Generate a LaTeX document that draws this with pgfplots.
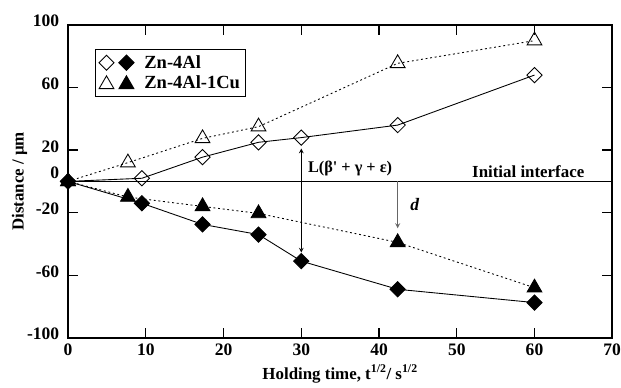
\documentclass[border=0pt]{standalone}
\usepackage{fontspec}
\setmainfont{Liberation Serif}
\usepackage{pgfplots}
\pgfplotsset{compat=1.18}
\begin{document}
\begin{tikzpicture}
\begin{axis}[
  scale only axis, width=435pt, height=250pt,
  xmin=0, xmax=70, ymin=-100, ymax=100,
  xtick={0,10,20,30,40,50,60,70},
  xticklabels={0,10,20,30,40,50,60,70},
  ytick={-100,-60,-20,20,60,100},
  yticklabels={-100,-60,-20,20,60,100},
  extra y ticks={0},
  extra y tick labels={0},
  extra y tick style={major tick length=0pt, yticklabel style={yshift=4pt}},
  tick align=inside, major tick length=8pt,
  axis line style={line width=1.2pt},
  every tick/.style={black, line width=1pt},
  tick label style={font=\bfseries\fontsize{14}{16}\selectfont},
  yticklabel style={yshift=3pt, xshift=-3.5pt},
  xticklabel style={yshift=-1pt, inner xsep=0pt},
  xlabel={\bfseries Holding time, t\textsuperscript{1/2}/ s\textsuperscript{1/2}},
  ylabel={\bfseries Distance / µm},
  label style={font=\bfseries\fontsize{13.5}{15}\selectfont},
  xlabel style={yshift=-1pt},
  ylabel style={yshift=-7pt},
  legend style={at={(axis cs:3.5,84.5)}, anchor=north west, draw=black, line width=0.8pt,
    font=\bfseries\fontsize{14.8}{16}\selectfont, row sep=0.5pt, inner sep=2.5pt},
  legend cell align=left,
  legend image code/.code={},
]
% initial interface
\addplot[black, line width=0.8pt, forget plot] coordinates {(0,0) (70,0)};
% Zn-4Al open
\addplot[black, line width=0.7pt, mark=square, mark options={rotate=45, fill=white, line width=0.7pt}, mark size=4.3pt, forget plot]
 coordinates {(0,0) (9.5,2) (17.3,15.5) (24.5,25) (30,28) (42.4,36) (60,68)};
% Zn-4Al-1Cu open
\addplot[black, line width=0.7pt, dash pattern=on 1.5pt off 2.2pt, mark=triangle, mark options={solid, fill=white, line width=0.7pt}, mark size=6.8pt, forget plot]
 coordinates {(0,0) (7.7,12) (17.3,27.5) (24.5,35) (42.4,75.5) (60,90)};
% Zn-4Al filled
\addplot[black, line width=0.7pt, mark=square*, mark options={rotate=45, fill=black}, mark size=4.3pt, forget plot]
 coordinates {(0,0) (9.5,-14) (17.3,-27.5) (24.5,-34) (30,-51) (42.4,-69) (60,-77.5)};
% Zn-4Al-1Cu filled
\addplot[black, line width=0.7pt, dash pattern=on 1.5pt off 2.2pt, mark=triangle*, mark options={solid, fill=black}, mark size=6.8pt, forget plot]
 coordinates {(0,0) (7.7,-10) (17.3,-16) (24.5,-20.5) (42.4,-39) (60,-68)};
% legend entries
\addlegendimage{legend image code/.code={
  \draw[black, line width=0.7pt] plot[only marks, mark=square, mark options={rotate=45, fill=white}, mark size=4.3pt] coordinates {(0.22cm,0)};
  \draw[black] plot[only marks, mark=square*, mark options={rotate=45, fill=black}, mark size=4.3pt] coordinates {(0.78cm,0)};
}}
\addlegendentry{\hspace{0.22cm}Zn-4Al}
\addlegendimage{legend image code/.code={
  \draw[black, line width=0.7pt] plot[only marks, mark=triangle, mark options={fill=white}, mark size=6.8pt] coordinates {(0.22cm,-1pt)};
  \draw[black] plot[only marks, mark=triangle*, mark options={fill=black}, mark size=6.8pt] coordinates {(0.78cm,-1pt)};
}}
\addlegendentry{\hspace{0.22cm}Zn-4Al-1Cu}
% annotations
\draw[black, line width=0.7pt, <->, >=stealth] (axis cs:30,21) -- (axis cs:30,-45.5);
\draw[black!60, line width=0.8pt, ->, >=stealth] (axis cs:42.4,0) -- (axis cs:42.4,-30);
\node[anchor=west, font=\bfseries\fontsize{13}{15}\selectfont] at (axis cs:30.3,8.5) {L(β\textquotesingle\ + γ + ε)};
\node[anchor=south east, font=\bfseries\fontsize{13.5}{15}\selectfont, inner sep=1pt] at (axis cs:66.6,1.5) {Initial interface};
\node[font=\bfseries\itshape\fontsize{14}{15}\selectfont] at (axis cs:44.6,-14.5) {d};
\end{axis}
\path ([xshift=-54.4pt, yshift=20pt]current axis.north west);
\end{tikzpicture}
\end{document}
